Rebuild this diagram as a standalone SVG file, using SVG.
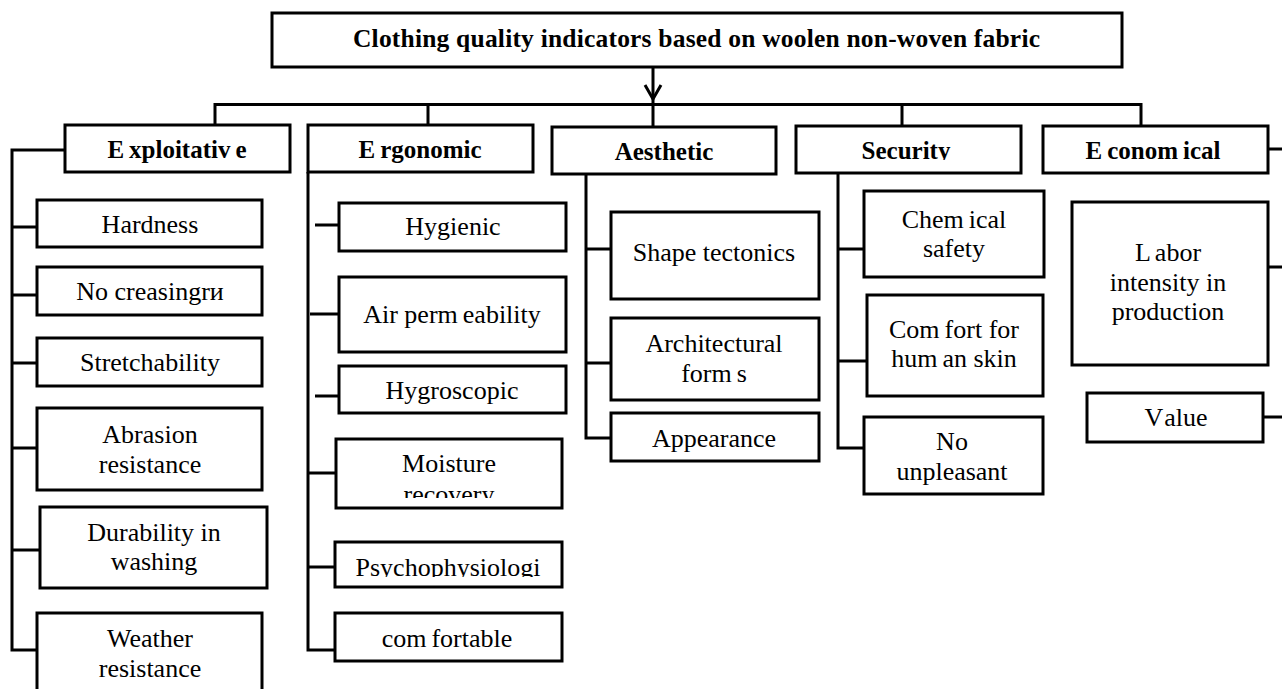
<svg xmlns="http://www.w3.org/2000/svg" width="1282" height="689" viewBox="0 0 1282 689">
<style>
.box{fill:#fff;stroke:#000;stroke-width:3}
.ln{fill:none;stroke:#000;stroke-width:3}
text{font-family:"Liberation Serif","Times New Roman",serif;fill:#000;text-anchor:middle}
.t{font-size:26px}
.h{font-size:25px;font-weight:bold}
.title{font-size:25.5px;font-weight:bold;text-anchor:start}
</style>
<defs>
<marker id="arr" viewBox="-16 -10 22 20" refX="5" refY="0" markerWidth="22" markerHeight="20" markerUnits="userSpaceOnUse" orient="auto">
<polyline points="-14,-8 0,0 -14,8" fill="none" stroke="#000" stroke-width="3"/>
</marker>
<clipPath id="cSec"><rect x="796" y="126" width="225" height="34"/></clipPath>
<clipPath id="cMoist"><rect x="336" y="440" width="226" height="58"/></clipPath>
<clipPath id="cPsy"><rect x="335" y="543" width="227" height="34"/></clipPath>
</defs>
<rect width="1282" height="689" fill="#fff"/>

<g id="connectors">
<line class="ln" x1="653" y1="68" x2="653" y2="104" marker-end="url(#arr)"/>
<path class="ln" d="M215,125 V104.5 H1141 V126 M428,104.5 V125 M653,104.5 V127 M902,104.5 V126"/>
<path class="ln" d="M65,150 H12 V650 H37 M12,227 H37 M12,295 H37 M12,363 H37 M12,448 H37 M12,550 H40"/>
<path class="ln" d="M308,172 V650 H335 M315,225 H339 M310,314 H339 M315,396 H339 M308,473 H336 M308,567 H335"/>
<path class="ln" d="M586,174 V438 H611 M586,249 H611 M586,363 H611"/>
<path class="ln" d="M838,173 V448 H864 M838,249 H864 M838,361 H867"/>
<path class="ln" d="M1268,149 H1282 M1268,267 H1282 M1263,417 H1282"/>
</g>

<g id="title"><rect class="box" x="272" y="13" width="850" height="54"/>
<text class="title" x="353" y="47" textLength="687" lengthAdjust="spacing">Clothing quality indicators based on woolen non-woven fabric</text></g>

<g id="exploitative"><rect class="box" x="65" y="125" width="225" height="47"/>
<text class="h" x="177" y="158">E<tspan dx="5">xploitativ</tspan><tspan dx="5">e</tspan></text></g>
<g id="ergonomic"><rect class="box" x="308" y="125" width="225" height="47"/>
<text class="h" x="420" y="158">E<tspan dx="5">rgonomic</tspan></text></g>
<g id="aesthetic"><rect class="box" x="552" y="127" width="224" height="47"/>
<text class="h" x="664" y="160">Aesthetic</text></g>
<g id="security"><rect class="box" x="796" y="126" width="225" height="47"/>
<text class="h" x="906" y="159" clip-path="url(#cSec)">Security</text></g>
<g id="economical"><rect class="box" x="1043" y="126" width="225" height="47"/>
<text class="h" x="1153" y="159">E<tspan dx="5">conom</tspan><tspan dx="5">ical</tspan></text></g>

<g id="hardness"><rect class="box" x="37" y="200" width="225" height="47"/>
<text class="t" x="150" y="233">Hardness</text></g>
<g id="no-creasing"><rect class="box" x="37" y="267" width="225" height="48"/>
<text class="t" x="150" y="300">No creasingrи</text></g>
<g id="stretchability"><rect class="box" x="37" y="338" width="225" height="48"/>
<text class="t" x="150" y="371">Stretchability</text></g>
<g id="abrasion"><rect class="box" x="37" y="408" width="225" height="82"/>
<text class="t" x="150" y="443">Abrasion</text><text class="t" x="150" y="473">resistance</text></g>
<g id="durability"><rect class="box" x="40" y="507" width="227" height="81"/>
<text class="t" x="154" y="541">Durability in</text><text class="t" x="154" y="570">washing</text></g>
<g id="weather"><rect class="box" x="37" y="613" width="225" height="92"/>
<text class="t" x="150" y="647">Weather</text><text class="t" x="150" y="677">resistance</text></g>

<g id="hygienic"><rect class="box" x="339" y="203" width="227" height="48"/>
<text class="t" x="453" y="235">Hygienic</text></g>
<g id="air-permeability"><rect class="box" x="339" y="277" width="227" height="75"/>
<text class="t" x="452" y="323">Air perm<tspan dx="5">eability</tspan></text></g>
<g id="hygroscopic"><rect class="box" x="339" y="366" width="227" height="47"/>
<text class="t" x="452" y="399">Hygroscopic</text></g>
<g id="moisture"><rect class="box" x="336" y="439" width="226" height="69"/>
<g clip-path="url(#cMoist)"><text class="t" x="449" y="472">Moisture</text><text class="t" x="449" y="503">recovery</text></g></g>
<g id="psychophysiological"><rect class="box" x="335" y="542" width="227" height="45"/>
<text class="t" x="448" y="576" clip-path="url(#cPsy)">Psychophysiologi</text></g>
<g id="comfortable"><rect class="box" x="335" y="613" width="227" height="48"/>
<text class="t" x="447" y="647">com<tspan dx="5">fortable</tspan></text></g>

<g id="shape-tectonics"><rect class="box" x="611" y="212" width="208" height="87"/>
<text class="t" x="714" y="261">Shape tectonics</text></g>
<g id="architectural"><rect class="box" x="611" y="318" width="208" height="82"/>
<text class="t" x="714" y="352">Architectural</text><text class="t" x="714" y="382">form<tspan dx="5">s</tspan></text></g>
<g id="appearance"><rect class="box" x="611" y="413" width="208" height="48"/>
<text class="t" x="714" y="447">Appearance</text></g>

<g id="chemical-safety"><rect class="box" x="864" y="191" width="180" height="86"/>
<text class="t" x="954" y="228">Chem<tspan dx="5">ical</tspan></text><text class="t" x="954" y="257">safety</text></g>
<g id="comfort-skin"><rect class="box" x="867" y="295" width="176" height="101"/>
<text class="t" x="954" y="338">Com<tspan dx="5">fort for</tspan></text><text class="t" x="954" y="367">hum<tspan dx="5">an skin</tspan></text></g>
<g id="no-unpleasant"><rect class="box" x="864" y="417" width="179" height="77"/>
<text class="t" x="952" y="450">No</text><text class="t" x="952" y="480">unpleasant</text></g>

<g id="labor-intensity"><rect class="box" x="1072" y="202" width="196" height="163"/>
<text class="t" x="1168" y="261">L<tspan dx="4">abor</tspan></text><text class="t" x="1168" y="291">intensity in</text><text class="t" x="1168" y="320">production</text></g>
<g id="value"><rect class="box" x="1087" y="393" width="176" height="49"/>
<text class="t" x="1176" y="426">V<tspan dx="4">alue</tspan></text></g>
</svg>
